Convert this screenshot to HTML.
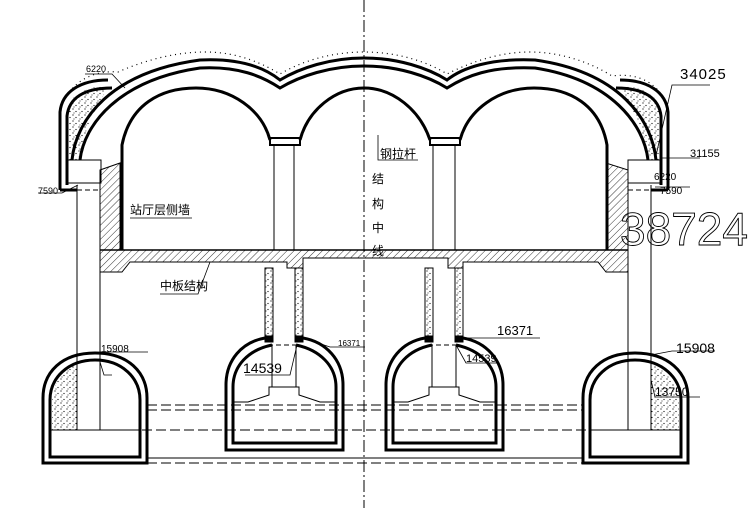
<!DOCTYPE html>
<html><head><meta charset="utf-8"><style>
html,body{margin:0;padding:0;background:#fff;}
svg{display:block;}
text{font-family:"Liberation Sans","Noto Sans CJK SC",sans-serif;fill:#000;}
</style></head><body>
<svg width="748" height="508" viewBox="0 0 748 508" xmlns="http://www.w3.org/2000/svg">
<defs>
<pattern id="h" width="5" height="5" patternUnits="userSpaceOnUse" patternTransform="rotate(45)"><line x1="0" y1="0" x2="0" y2="5" stroke="#000" stroke-width="0.8"/></pattern>
<pattern id="d" width="6" height="6" patternUnits="userSpaceOnUse"><circle cx="1" cy="1" r="0.6"/><circle cx="4" cy="3.5" r="0.6"/><circle cx="2" cy="5" r="0.5"/></pattern>
</defs>
<g fill="none" stroke="#000">
<line x1="364" y1="0" x2="364" y2="508" stroke-width="1" stroke-dasharray="12,3,2,3"/>
<path d="M60 110 C70 80 95 70 118 72 C150 58 180 52 205 52 C240 52 265 65 280 74 C300 62 330 52 364 52 C398 52 428 62 447 74 C465 65 495 52 530 52 C560 52 590 62 612 76 C640 72 662 85 668 110" stroke-width="1.2" stroke-dasharray="1,4"/>
<path d="M72 160 C76 120 110 72 200 60 C240 58 265 68 280 80 C300 68 330 58 364 58 C398 58 428 68 447 80 C462 68 490 58 535 60 C620 72 652 120 656 160" stroke-width="3"/>
<path d="M80 160 C84 125 118 80 200 68 C238 66 262 76 280 88 C300 76 330 66 364 66 C398 66 428 76 447 88 C466 76 490 66 535 68 C612 80 644 125 648 160" stroke-width="3"/>
<path d="M60 190 V112 C62 92 80 80 108 80" stroke-width="3"/>
<path d="M67 185 V116 C69 98 84 88 112 88" stroke-width="3"/>
<path d="M60 190 H77" stroke-width="3"/>
<path d="M668 190 V112 C666 92 648 80 620 80" stroke-width="3"/>
<path d="M661 185 V116 C659 98 644 88 616 88" stroke-width="3"/>
<path d="M651 190 H668" stroke-width="3"/>
<path d="M67 183 V112 C70 92 85 87 110 86 C92 110 82 140 78 160 H67 Z" fill="url(#d)" stroke="none"/>
<path d="M661 183 V112 C658 92 643 87 618 86 C636 110 646 140 650 160 H661 Z" fill="url(#d)" stroke="none"/>
<rect x="67" y="160" width="34" height="23" stroke-width="1"/>
<rect x="628" y="160" width="34" height="23" stroke-width="1"/>
<path d="M122 250 V145 C130 105 160 88 196 88 C232 88 262 110 270 140" stroke-width="3"/>
<path d="M300 140 C308 110 335 88 364 88 C393 88 420 110 430 140" stroke-width="3"/>
<path d="M460 140 C468 110 498 88 534 88 C570 88 600 105 607 145 V250" stroke-width="3"/>
<rect x="270" y="138" width="30" height="7" stroke-width="2"/>
<rect x="430" y="138" width="30" height="7" stroke-width="2"/>
<line x1="274" y1="145" x2="274" y2="250"/><line x1="294" y1="145" x2="294" y2="250"/>
<line x1="433" y1="145" x2="433" y2="250"/><line x1="455" y1="145" x2="455" y2="250"/>
<path d="M100 170 L120 163 V250 H606 V163 L628 170 V272 H606 L598 262 H463 V268 H448 V258 H303 V268 H287 V262 H130 L122 272 H100 Z" fill="url(#h)" stroke-width="1"/>
<line x1="100" y1="250" x2="628" y2="250" stroke-width="1.5"/>
<line x1="77" y1="185" x2="77" y2="430"/><line x1="100" y1="185" x2="100" y2="430"/>
<line x1="628" y1="185" x2="628" y2="430"/><line x1="651" y1="185" x2="651" y2="430"/>
<line x1="77" y1="190" x2="100" y2="190" stroke-dasharray="5,3"/>
<line x1="628" y1="190" x2="651" y2="190" stroke-dasharray="5,3"/>
<g stroke-width="1">
<rect x="265" y="268" width="8" height="70" fill="url(#d)"/><rect x="295" y="268" width="8" height="70" fill="url(#d)"/>
<rect x="425" y="268" width="8" height="70" fill="url(#d)"/><rect x="455" y="268" width="8" height="70" fill="url(#d)"/>
</g>
<g stroke-dasharray="10,4" stroke-width="1">
<line x1="147" y1="405" x2="583" y2="405"/><line x1="147" y1="410" x2="583" y2="410"/>
<line x1="100" y1="430" x2="628" y2="430"/><line x1="147" y1="463" x2="583" y2="463"/>
</g>
<line x1="147" y1="458" x2="583" y2="458"/>
<path d="M43 463 V398 C43 372 62 353 95 353 C128 353 147 372 147 398 V463 Z" stroke-width="3"/>
<path d="M50 457 V400 C50 378 68 360 95 360 C122 360 140 378 140 400 V457 Z" stroke-width="3"/>
<path d="M52 430 V400 C53 380 66 368 77 364 V430 Z" fill="url(#d)" stroke="none"/>
<line x1="50" y1="430" x2="140" y2="430"/>
<path d="M583 463 V398 C583 372 602 353 635 353 C668 353 688 372 688 398 V463 Z" stroke-width="3"/>
<path d="M590 457 V400 C590 378 608 360 635 360 C662 360 681 378 681 400 V457 Z" stroke-width="3"/>
<path d="M651 364 C662 368 676 380 679 400 V430 H651 Z" fill="url(#d)" stroke="none"/>
<line x1="590" y1="430" x2="681" y2="430"/>
<g id="mt">
<path d="M265 338 C242 342 226 360 226 385 V450 H343 V385 C343 360 326 342 303 338" stroke-width="3"/>
<path d="M272 345 C248 350 233 366 233 387 V443 H336 V387 C336 366 320 350 296 345" stroke-width="3"/>
<line x1="272" y1="345" x2="272" y2="387"/><line x1="296" y1="345" x2="296" y2="387"/>
<path d="M233 402 H248 L269 395 V387 H299 V395 L320 402 H336" stroke-width="1"/>
<line x1="268" y1="345" x2="300" y2="345" stroke-dasharray="5,3"/>
<rect x="265" y="336" width="8" height="6" fill="#000"/><rect x="295" y="336" width="8" height="6" fill="#000"/>
</g>
<use href="#mt" transform="translate(160,0)"/>
<g stroke-width="0.8">
<path d="M85 74 H112 L125 88"/>
<path d="M38 193 H62 L78 185"/>
<path d="M130 218 H192"/>
<path d="M210 262 L198 294 H160"/>
<path d="M378 135 V160 H418"/>
<path d="M655 160 L672 85 H710"/>
<path d="M660 158 H700"/>
<path d="M655 187 H690"/>
<path d="M303 338 L330 347 H365"/>
<path d="M245 375 H290 L297 345"/>
<path d="M463 338 H540"/>
<path d="M456 345 L466 363 H498"/>
<path d="M100 352 H148"/>
<path d="M100 362 L104 375 H112"/>
<path d="M651 355 L672 351 H715"/>
<path d="M651 380 L655 397 H700"/>
</g>
</g>
<text x="86" y="72" font-size="9">6220</text>
<text x="38" y="194" font-size="9">7590</text>
<text x="130" y="214" font-size="12">站厅层侧墙</text>
<text x="160" y="290" font-size="12">中板结构</text>
<text x="380" y="158" font-size="12">钢拉杆</text>
<text x="372" y="183" font-size="12">结</text>
<text x="372" y="208" font-size="12">构</text>
<text x="372" y="232" font-size="12">中</text>
<text x="372" y="255" font-size="12">线</text>
<text x="680" y="79" font-size="15" letter-spacing="1">34025</text>
<text x="690" y="157" font-size="11">31155</text>
<text x="654" y="180" font-size="10">6220</text>
<text x="660" y="194" font-size="10">7590</text>
<text x="620" y="245" font-size="46" textLength="128" lengthAdjust="spacingAndGlyphs" style="fill:none;stroke:#000;stroke-width:0.9">38724</text>
<text x="338" y="346" font-size="8">16371</text>
<text x="243" y="373" font-size="14">14539</text>
<text x="497" y="335" font-size="13">16371</text>
<text x="466" y="362" font-size="11">14539</text>
<text x="101" y="352" font-size="10">15908</text>
<text x="676" y="353" font-size="14">15908</text>
<text x="655" y="396" font-size="12">13750</text>
</svg>
</body></html>
